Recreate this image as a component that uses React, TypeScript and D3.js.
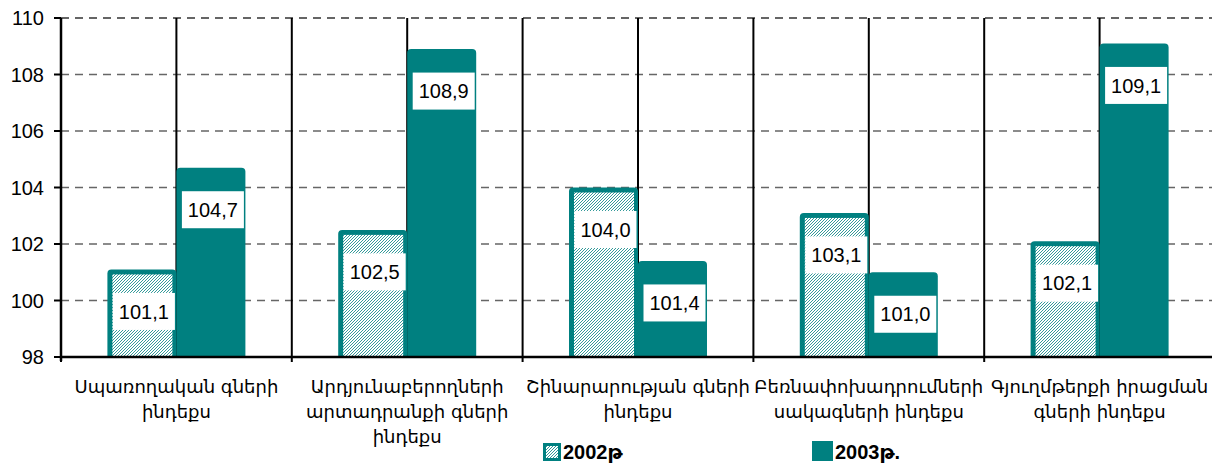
import React from 'react';
import * as d3 from 'd3';

// category labels, one string per line
const categories = [
  ['Սպառողական գների', 'ինդեքս'],
  ['Արդյունաբերողների', 'արտադրանքի գների', 'ինդեքս'],
  ['Շինարարության գների', 'ինդեքս'],
  ['Բեռնափոխադրումների', 'սակագների ինդեքս'],
  ['Գյուղմթերքի իրացման', 'գների ինդեքս'],
];
const seriesNames = ['2002թ', '2003թ.'];
const values2002 = [101.1, 102.5, 104.0, 103.1, 102.1];
const values2003 = [104.7, 108.9, 101.4, 101.0, 109.1];
const yTicks = [98, 100, 102, 104, 106, 108, 110];

const W = 1212;
const H = 463;
const TEAL = '#008080';
const BAR_W = 69;
const NUM_FONT = '"Liberation Sans", Arial, "DejaVu Sans", sans-serif';
const ARM_FONT = '"DejaVu Sans", sans-serif';

const fmt = (v: number) => d3.format('.1f')(v).replace('.', ',');

// bar with rounded top corners
const barPath = (x0: number, x1: number, yTop: number, yBot: number, r = 4) =>
  `M${x0},${yBot}V${yTop + r}Q${x0},${yTop} ${x0 + r},${yTop}H${x1 - r}Q${x1},${yTop} ${x1},${yTop + r}V${yBot}Z`;

export default function App() {
  const keys = categories.map((_, i) => String(i));
  const x0 = d3.scaleBand().domain(keys).range([61, 1215]);
  const bw = x0.bandwidth();
  const x1 = d3
    .scaleBand()
    .domain(seriesNames)
    .range([0, bw])
    .paddingInner(0)
    .paddingOuter((bw / BAR_W - 2) / 2);
  const y = d3.scaleLinear().domain([98, 110]).range([357, 18]);
  const base = y(98);

  const data = [values2002, values2003];

  return (
    <svg width={W} height={H} style={{ position: 'absolute', left: 0, top: 0, background: '#fff' }}>
      <defs>
        <pattern id="hatch" patternUnits="userSpaceOnUse" width={3} height={3}>
          <rect width={3} height={3} fill="#fff" />
          <path d="M-1,1L1,-1M0,3L3,0M2,4L4,2" stroke={TEAL} strokeWidth={0.8} />
        </pattern>
      </defs>

      {/* horizontal gridlines */}
      {yTicks.filter(t => t > 98).map(t => (
        <line key={t} x1={61} x2={W} y1={y(t)} y2={y(t)}
          stroke={t === 110 ? '#333' : '#666'} strokeWidth={1.5} strokeDasharray="8,6" />
      ))}

      {/* vertical category lines and centre lines */}
      {keys.map(k => {
        const cx = (x0(k) as number) + bw / 2;
        return (
          <g key={k}>
            <line x1={x0(k)} x2={x0(k)} y1={y(110)} y2={base + 5} stroke="#000" strokeWidth={2} />
            <line x1={cx} x2={cx} y1={y(110)} y2={base} stroke="#000" strokeWidth={2} />
          </g>
        );
      })}

      {/* bars */}
      {keys.map((k, i) => (
        <g key={k}>
          {seriesNames.map((s, si) => {
            const bx = (x0(k) as number) + (x1(s) as number);
            const top = y(data[si][i]);
            if (si === 0) {
              return (
                <g key={s}>
                  <path d={barPath(bx, bx + BAR_W, top, base)} fill={TEAL} />
                  <rect x={bx + 5} y={top + 5} width={BAR_W - 9} height={base - top - 5} fill="url(#hatch)" />
                </g>
              );
            }
            return <path key={s} d={barPath(bx, bx + BAR_W, top, base)} fill={TEAL} />;
          })}
        </g>
      ))}

      {/* value labels */}
      {keys.map((k, i) =>
        seriesNames.map((s, si) => {
          const v = data[si][i];
          const cx = (x0(k) as number) + (x1(s) as number) + BAR_W / 2 + 2;
          const cy = y(v) + 42;
          return (
            <g key={k + s}>
              <rect x={cx - 31} y={cy - 18.5} width={62} height={37} fill="#fff" />
              <text x={cx} y={cy} dy="0.36em" textAnchor="middle" fontFamily={NUM_FONT} fontSize={20} fill="#000">
                {fmt(v)}
              </text>
            </g>
          );
        })
      )}

      {/* axes */}
      <line x1={61} x2={W} y1={base} y2={base} stroke="#000" strokeWidth={2.5} />
      <line x1={61} x2={61} y1={y(110)} y2={base + 4} stroke="#000" strokeWidth={2.5} />
      {yTicks.map(t => (
        <g key={t}>
          <line x1={54} x2={61} y1={y(t)} y2={y(t)} stroke="#000" strokeWidth={2} />
          <text x={44} y={y(t)} dy="0.36em" textAnchor="end" fontFamily={NUM_FONT} fontSize={20} fill="#000">
            {t}
          </text>
        </g>
      ))}

      {/* category labels */}
      {categories.map((lines, i) => (
        <text key={i} x={(x0(String(i)) as number) + bw / 2} y={393} textAnchor="middle"
          fontFamily={ARM_FONT} fontSize={18} fill="#000">
          {lines.map((l, li) => (
            <tspan key={li} x={(x0(String(i)) as number) + bw / 2} dy={li === 0 ? 0 : 25}>{l}</tspan>
          ))}
        </text>
      ))}

      {/* legend */}
      <g>
        <rect x={543} y={443} width={18} height={18} fill={TEAL} />
        <rect x={546} y={446} width={12} height={12} fill="url(#hatch)" />
        <text x={563} y={459} fontFamily={NUM_FONT} fontSize={20} fontWeight="bold" fill="#000">{seriesNames[0]}</text>
        <rect x={812} y={441} width={21} height={20} fill={TEAL} />
        <text x={835} y={459} fontFamily={NUM_FONT} fontSize={20} fontWeight="bold" fill="#000">{seriesNames[1]}</text>
      </g>
    </svg>
  );
}
